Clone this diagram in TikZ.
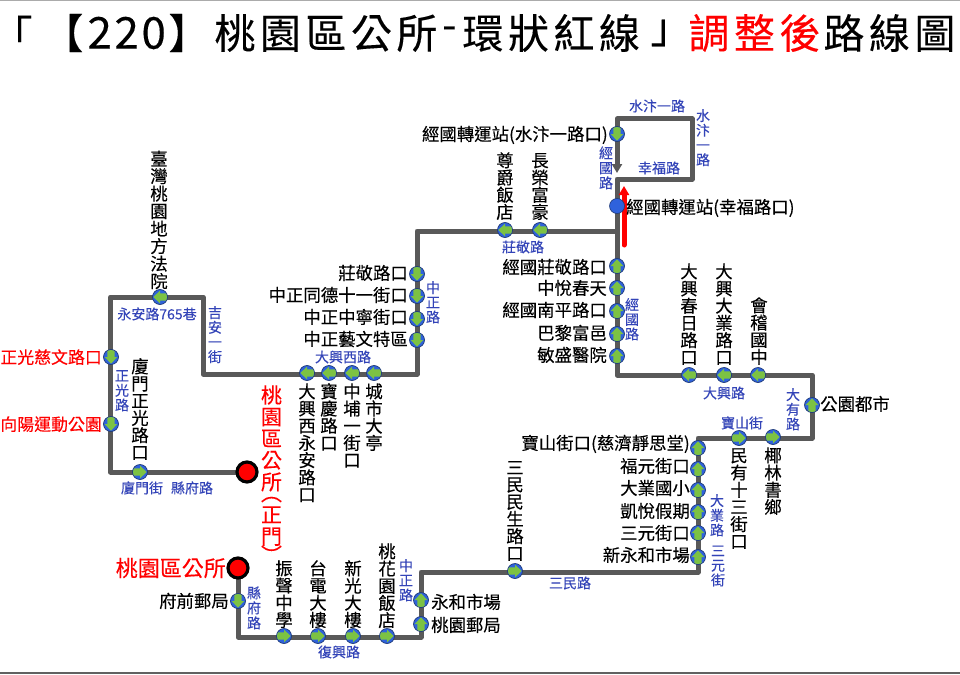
\documentclass[tikz,border=0pt]{standalone}
\usepackage{fontspec}
\usepackage{graphicx}
\usetikzlibrary{arrows.meta}
\setmainfont[FakeBold=0.2]{Noto Sans CJK TC}
\definecolor{routegray}{HTML}{595959}
\definecolor{roadblue}{HTML}{3344B8}
\definecolor{stopblue}{HTML}{2F62DC}
\definecolor{stopgreen}{HTML}{7CC243}
\definecolor{stopedge}{HTML}{1E3A78}
\makeatletter
% vertical stack: pitch, characters
\newcommand\vs[2]{\vbox{\offinterlineskip\@tfor\vs@c:=#2\do{\hbox to 1em{\hss\rule[-.14em]{0pt}{#1pt}\smash{\vs@c}\hss}}}}
% horizontal run with a fixed pitch
\newcommand\hs[2]{\hbox{\@tfor\hs@c:=#2\do{\hbox to #1pt{\hss\hs@c\hss}}}}
\makeatother
\tikzset{
  route/.style={draw=routegray,line width=5pt,line join=round,line cap=butt},
  stopn/.style={circle,draw=stopedge,line width=.7pt,fill=stopblue,minimum size=15pt,inner sep=0pt},
  hub/.style={circle,draw=stopedge,line width=.6pt,fill=stopblue,minimum size=15pt,inner sep=0pt},
  terminus/.style={circle,draw=black,line width=3.2pt,fill=red,minimum size=20pt,inner sep=0pt},
  ttl/.style={inner sep=0pt,anchor=west,font=\fontsize{41}{41}\selectfont},
  st/.style={inner sep=0pt,text height=15.3pt,text depth=2.1pt,font=\fontsize{17.4}{17.4}\selectfont},
  stred/.style={st,anchor=east,text=red,font=\fontsize{16.9}{16.9}\selectfont},
  sv/.style={inner sep=0pt,anchor=north,font=\fontsize{17.4}{17.4}\selectfont},
  rd/.style={inner sep=0pt,text=roadblue,text height=12.3pt,text depth=1.7pt,font=\fontsize{14}{14}\selectfont},
  rv/.style={inner sep=0pt,anchor=north,text=roadblue,font=\fontsize{14}{14}\selectfont},
}
\newcommand\busstop[4]{%
  \node[stopn] (#1) at (#2,#3) {};
  \begin{scope}[x=1pt,y=1pt,shift={(#1.center)},rotate=#4]
    \clip (0,0) circle (7pt);
    \fill[stopgreen] (6.6,0) -- (0,6.4) -- (0,3.6) -- (-7,3.6) -- (-7,-3.6) -- (0,-3.6) -- (0,-6.4) -- cycle;
  \end{scope}}
\begin{document}
\begin{tikzpicture}[x=1pt,y=-1pt]
\useasboundingbox (0,0) rectangle (960,674);
\fill[white] (0,0) rectangle (960,674);
\fill[black!33] (0,0) rectangle (960,1.2);
\fill[black!62] (0,672) rectangle (960,674);
% title
\node[ttl] (t1) at (0,33) {\hs{23.5}{「}};
\node[ttl] (t2) at (40,33) {\hs{45.5}{【}};
\node[ttl,font=\fontsize{44}{44}\selectfont] (t3) at (86,33) {\hs{27}{220}};
\node[ttl] (t4) at (166,33) {\hs{45.5}{】}};
\node[ttl] (t5) at (212,33) {\hs{45.5}{桃園區公所}};
\node[ttl] (t6) at (442,33) {\raisebox{-3pt}{-}};
\node[ttl] (t7) at (460,33) {\hs{45.5}{環狀紅線}};
\node[ttl] (t8) at (648,33) {\hs{45.5}{」}};
\node[ttl,text=red] (t9) at (686,33) {\hs{45.5}{調整後}};
\node[ttl] (t10) at (821,33) {\hs{45.5}{路線圖}};
% route corners
\coordinate (a1) at (238,637);
\coordinate (a2) at (421,637);
\coordinate (a3) at (421,572);
\coordinate (a4) at (698,572);
\coordinate (a5) at (698,438);
\coordinate (a6) at (812,438);
\coordinate (a7) at (812,375);
\coordinate (a8) at (617,375);
\coordinate (a9) at (617,179);
\coordinate (a10) at (692,179);
\coordinate (a11) at (692,119);
\coordinate (a12) at (617,119);
\coordinate (a13) at (617,173);
\coordinate (a14) at (617,160);
\coordinate (b0) at (617,231);
\coordinate (b1) at (417,231);
\coordinate (b2) at (417,374);
\coordinate (b3) at (203,374);
\coordinate (b4) at (203,297);
\coordinate (b5) at (110.5,297);
\coordinate (b6) at (110.5,472);
\coordinate (r1) at (624,245);
\coordinate (r2) at (624,186);
\coordinate (endAc) at (238,568);
\coordinate (endBc) at (247,472);
% route
\draw[route] (endAc) -- (a1) -- (a2) -- (a3) -- (a4) -- (a5) -- (a6) -- (a7) -- (a8) -- (a9) -- (a10) -- (a11) -- (a12) -- (a14);
\draw[route,-{Triangle[width=10pt,length=9pt]}] (a14) -- (a13);
\draw[route] (b0) -- (b1) -- (b2) -- (b3) -- (b4) -- (b5) -- (b6) -- (endBc);
\node[terminus] (endA) at (endAc) {};
\node[terminus] (endB) at (endBc) {};
\draw[red,line width=5pt,line cap=round,-{Triangle[width=10pt,length=9pt]}] (r1) -- (r2);
% stops
\busstop{s1}{238}{601}{-90}
\busstop{s2}{284}{636}{0}
\busstop{s3}{318}{636}{0}
\busstop{s4}{353}{636}{0}
\busstop{s5}{387}{636}{0}
\busstop{s6}{421}{624}{90}
\busstop{s7}{421}{600}{90}
\busstop{s8}{515}{571}{0}
\busstop{s9}{698}{557}{90}
\busstop{s10}{698}{533}{90}
\busstop{s11}{698}{512}{90}
\busstop{s12}{698}{490}{90}
\busstop{s13}{698}{469}{90}
\busstop{s14}{698}{448}{90}
\busstop{s15}{739}{438}{0}
\busstop{s16}{773}{437}{0}
\busstop{s17}{812}{405}{90}
\busstop{s18}{758}{375}{180}
\busstop{s19}{724}{375}{180}
\busstop{s20}{689}{375}{180}
\busstop{s21}{617}{356}{90}
\busstop{s22}{617}{334}{90}
\busstop{s23}{617}{311}{90}
\busstop{s24}{617}{288}{90}
\busstop{s25}{617}{266}{90}
\busstop{s26}{617}{134}{-90}
\busstop{s27}{540}{230}{180}
\busstop{s28}{505}{230}{180}
\busstop{s29}{417}{274}{-90}
\busstop{s30}{417}{296}{-90}
\busstop{s31}{417}{319}{-90}
\busstop{s32}{417}{340}{-90}
\busstop{s33}{374}{373}{180}
\busstop{s34}{352}{373}{180}
\busstop{s35}{329}{373}{180}
\busstop{s36}{307}{373}{180}
\busstop{s37}{160}{297}{180}
\busstop{s38}{111}{357}{-90}
\busstop{s39}{111}{424}{-90}
\busstop{s40}{140}{472}{0}
\node[hub] (hub) at (617,206) {};
% horizontal stop names
\node[st,anchor=east] (n26) at (608,134) {經國轉運站(水汴一路口)};
\node[st,anchor=west] (nhub) at (626,207) {經國轉運站(幸福路口)};
\node[st,anchor=west] (n17) at (820,404) {公園都市};
\node[st,anchor=west] (n7) at (431,602) {永和市場};
\node[st,anchor=west] (n6) at (431,625) {桃園郵局};
\node[st,anchor=east] (n1) at (229,601) {府前郵局};
\node[st,anchor=east] (n14) at (690,443) {寶山街口(慈濟靜思堂)};
\node[st,anchor=east] (n13) at (690,466) {福元街口};
\node[st,anchor=east] (n12) at (690,488) {大業國小};
\node[st,anchor=east] (n11) at (690,511) {凱悅假期};
\node[st,anchor=east] (n10) at (690,533) {三元街口};
\node[st,anchor=east] (n9) at (690,555) {新永和市場};
\node[st,anchor=east] (n29) at (408,273) {莊敬路口};
\node[st,anchor=east] (n30) at (408,295) {中正同德十一街口};
\node[st,anchor=east] (n31) at (408,317) {中正中寧街口};
\node[st,anchor=east] (n32) at (408,339) {中正藝文特區};
\node[st,anchor=east] (n25) at (607,267) {經國莊敬路口};
\node[st,anchor=east] (n24) at (607,288) {中悅春天};
\node[st,anchor=east] (n23) at (607,310) {經國南平路口};
\node[st,anchor=east] (n22) at (607,333) {巴黎富邑};
\node[st,anchor=east] (n21) at (607,355) {敏盛醫院};
\node[stred] (n38) at (102,357) {正光慈文路口};
\node[stred] (n39) at (102,424) {向陽運動公園};
\node[st,anchor=east,text=red,text height=19.4pt,text depth=2.6pt,font=\fontsize{22}{22}\selectfont] (nA) at (226,568) {桃園區公所};
% vertical stop names
\node[sv] (n37) at (159,150) {\vs{17.5}{臺灣桃園地方法院}};
\node[sv] (n28) at (505,152) {\vs{17.2}{尊爵飯店}};
\node[sv] (n27) at (540,152) {\vs{17.2}{長榮富豪}};
\node[sv] (n36) at (307,383) {\vs{17.2}{大興西永安路口}};
\node[sv] (n35) at (329,383) {\vs{17.2}{寶慶路口}};
\node[sv] (n34) at (352,383) {\vs{17.2}{中埔一街口}};
\node[sv] (n33) at (374,383) {\vs{17.2}{城市大亭}};
\node[sv] (n40) at (140,358) {\vs{17.2}{廈門正光路口}};
\node[sv] (n20) at (689,263) {\vs{17.2}{大興春日路口}};
\node[sv] (n19) at (724,263) {\vs{17.2}{大興大業路口}};
\node[sv] (n18) at (759,297) {\vs{17.2}{會稽國中}};
\node[sv] (n15) at (739,447) {\vs{17.2}{民有十三街口}};
\node[sv] (n16) at (773,447) {\vs{17.2}{椰林書鄉}};
\node[sv] (n8) at (515,459) {\vs{17.2}{三民民生路口}};
\node[sv] (n2) at (284,560) {\vs{17.2}{振聲中學}};
\node[sv] (n3) at (318,560) {\vs{17.2}{台電大樓}};
\node[sv] (n4) at (353,560) {\vs{17.2}{新光大樓}};
\node[sv] (n5) at (387,543) {\vs{17.2}{桃花園飯店}};
\node[sv,text=red,font=\fontsize{21}{21}\selectfont] (nB) at (271.5,384)
  {\vbox{\offinterlineskip
    \vs{21.7}{桃園區公所}
    \hbox to 1em{\hss\rule[-.14em]{0pt}{11pt}\smash{︵}\hss}
    \vs{21.7}{正門}
    \hbox to 1em{\hss\rule[-3pt]{0pt}{11pt}\raisebox{-8pt}{\smash{︶}}\hss}}};
% road names
\node[rd] (r01) at (657,106) {水汴一路};
\node[rv] (r02) at (703,108) {\vs{14.7}{水汴一路}};
\node[rv] (r03) at (606,145) {\vs{15}{經國路}};
\node[rd] (r04) at (659,168) {幸福路};
\node[rd] (r05) at (523,247) {莊敬路};
\node[rd] (r06) at (157,314) {永安路765巷};
\node[rv] (r07) at (215,305) {\vs{14.7}{吉安一街}};
\node[rv] (r08) at (122,368) {\vs{14.7}{正光路}};
\node[rd] (r09) at (142,488) {廈門街};
\node[rd] (r10) at (192,488) {縣府路};
\node[rd] (r11) at (343,357) {大興西路};
\node[rv] (r12) at (433,280) {\vs{14.7}{中正路}};
\node[rv] (r13) at (632,297) {\vs{14.7}{經國路}};
\node[rd] (r14) at (724,393) {大興路};
\node[rv] (r15) at (793,387) {\vs{14.7}{大有路}};
\node[rd] (r16) at (742,423) {寶山街};
\node[rv] (r17) at (717,493) {\vs{14.7}{大業路}};
\node[rv] (r18) at (718,543) {\vs{14.7}{三元街}};
\node[rd] (r19) at (570,583) {三民路};
\node[rv] (r20) at (406,558) {\vs{14.7}{中正路}};
\node[rv] (r21) at (254,585) {\vs{15}{縣府路}};
\node[rd] (r22) at (339,652) {復興路};
\end{tikzpicture}
\end{document}
